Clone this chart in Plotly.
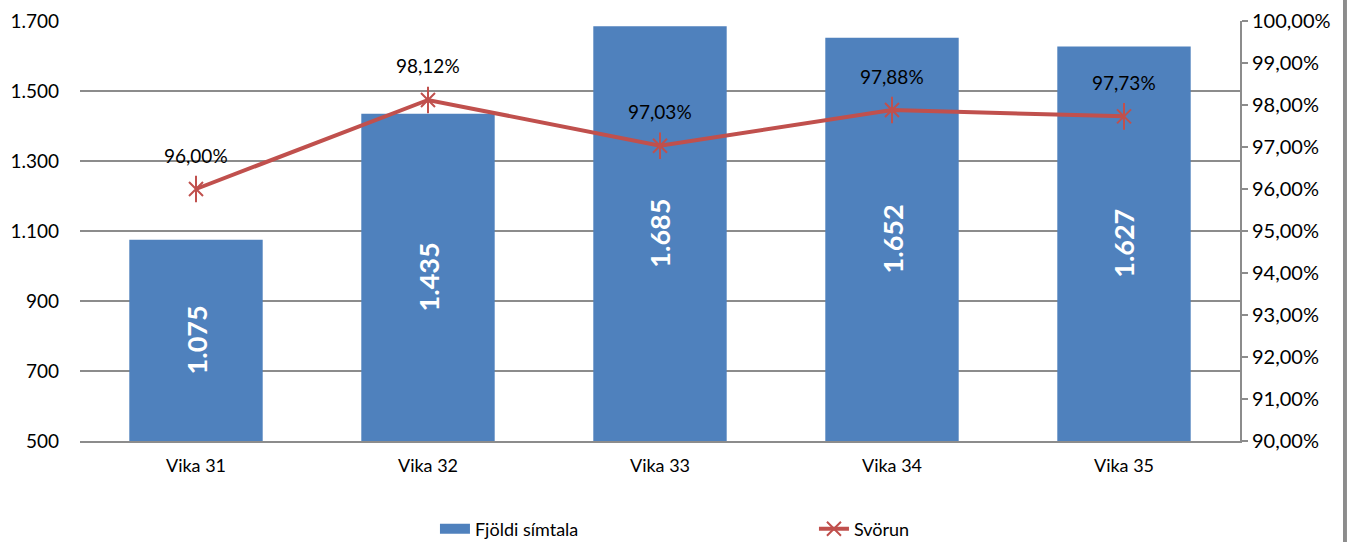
import plotly.graph_objects as go

categories = ["Vika 31", "Vika 32", "Vika 33", "Vika 34", "Vika 35"]
calls = [1075, 1435, 1685, 1652, 1627]
answer_rate = [0.9600, 0.9812, 0.9703, 0.9788, 0.9773]
left_ticks = [500, 700, 900, 1100, 1300, 1500, 1700]
right_ticks = [0.90, 0.91, 0.92, 0.93, 0.94, 0.95, 0.96, 0.97, 0.98, 0.99, 1.00]

FONT = "Lato"
BAR_COLOR = "#4F81BD"
LINE_COLOR = "#C0504D"
GRID = "#8C8C8C"
Y_MIN = left_ticks[0]

def fmt_int(v):
    return f"{v:,}".replace(",", ".")

def fmt_pct(v):
    return f"{v*100:.2f}%".replace(".", ",")

fig = go.Figure()
fig.add_trace(go.Bar(
    x=categories, y=calls, name="Fjöldi símtala",
    marker=dict(color=BAR_COLOR, line=dict(width=0)),
    yaxis="y", showlegend=False,
))
# legend proxy for the bar series (wide rectangle look)
fig.add_trace(go.Scatter(
    x=[None], y=[None], name="Fjöldi símtala", mode="lines",
    line=dict(color=BAR_COLOR, width=11), showlegend=True,
))
fig.add_trace(go.Scatter(
    x=categories, y=answer_rate, name="Svörun", yaxis="y2",
    mode="lines+markers",
    line=dict(color=LINE_COLOR, width=4),
    marker=dict(symbol="x-thin-open", size=14, color=LINE_COLOR,
                line=dict(color=LINE_COLOR, width=2)),
))
# vertical stroke of the star marker
fig.add_trace(go.Scatter(
    x=categories, y=answer_rate, yaxis="y2", mode="markers",
    showlegend=False, hoverinfo="skip",
    marker=dict(symbol="line-ns-open", size=19, color=LINE_COLOR,
                line=dict(color=LINE_COLOR, width=2)),
))

annotations = []
for c, v in zip(categories, answer_rate):
    annotations.append(dict(
        x=c, y=v, xref="x", yref="y2", text=fmt_pct(v), showarrow=False,
        yshift=34, font=dict(family=FONT, size=19, color="black"),
    ))
for c, v in zip(categories, calls):
    annotations.append(dict(
        x=c, y=(v + Y_MIN) / 2, xref="x", yref="y", text="<b>" + fmt_int(v) + "</b>",
        showarrow=False, textangle=-90,
        font=dict(family=FONT, size=27, color="white"),
    ))

fig.update_layout(
    width=1350, height=542,
    margin=dict(l=80, r=110, t=21, b=101, autoexpand=False),
    paper_bgcolor="white", plot_bgcolor="white",
    separators=",.",
    font=dict(family=FONT, size=19, color="black"),
    bargap=0.425,
    showlegend=True,
    legend=dict(orientation="h", x=0.306, y=-0.2095, xanchor="left",
                yanchor="middle", entrywidth=334, entrywidthmode="pixels",
                font=dict(family=FONT, size=18, color="black"),
                bgcolor="rgba(0,0,0,0)"),
    xaxis=dict(
        showline=True, linecolor=GRID, linewidth=2,
        ticks="", showgrid=False, tickfont=dict(size=18),
        ticklabelstandoff=7,
    ),
    yaxis=dict(
        range=[Y_MIN, 1700], tickvals=left_ticks,
        ticktext=[fmt_int(v) for v in left_ticks],
        showgrid=True, gridcolor=GRID, gridwidth=1.5,
        showline=False, ticks="", zeroline=False,
        tickfont=dict(size=19), ticklabelstandoff=20,
    ),
    yaxis2=dict(
        range=[0.90, 1.00], overlaying="y", side="right",
        tickvals=right_ticks, ticktext=[fmt_pct(v) for v in right_ticks],
        showgrid=False, showline=True, linecolor=GRID, linewidth=2,
        ticks="outside", ticklen=6, tickcolor=GRID, tickwidth=1.5,
        zeroline=False, tickfont=dict(size=20),
    ),
    annotations=annotations,
    shapes=[dict(type="rect", xref="paper", yref="paper",
                 x0=1.0888, x1=1.0922, y0=-0.3, y1=1.1,
                 fillcolor="#8C8C8C", line=dict(width=0), layer="above")],
)

fig.write_html(
    "out.html",
    config={"displayModeBar": False},
    post_script="document.body.style.margin='0';document.body.style.overflow='hidden';",
)
